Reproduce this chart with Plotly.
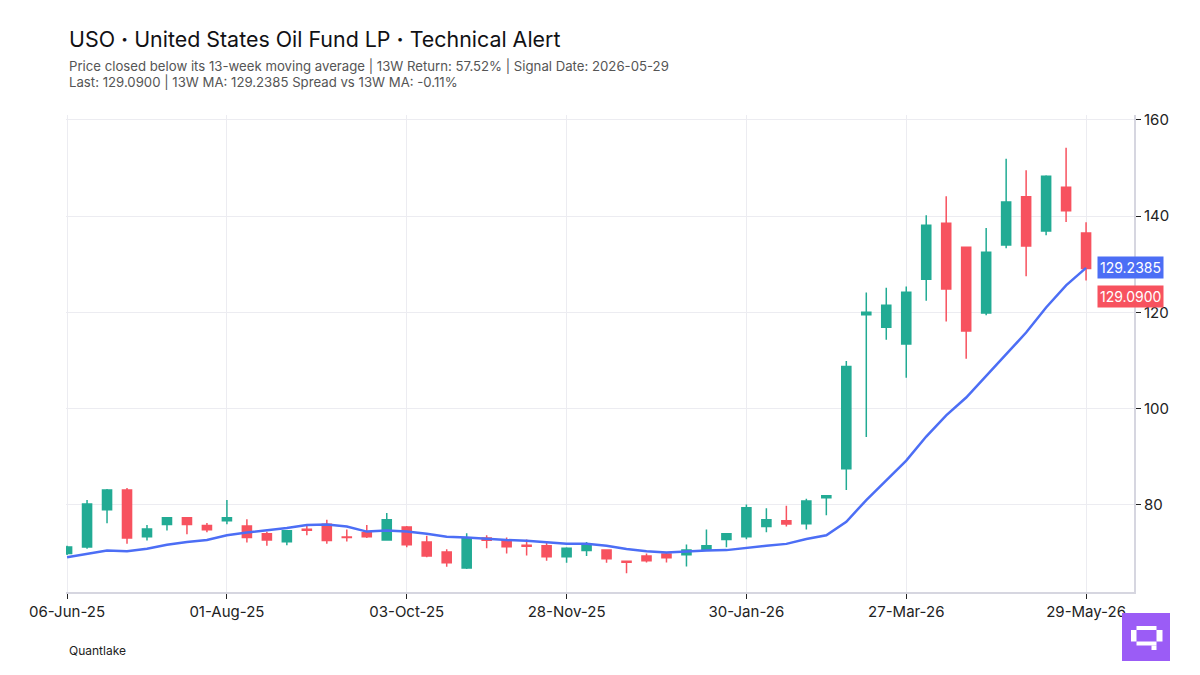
import pandas as pd
import plotly.graph_objects as go

# ---------------- data ----------------
dates = pd.date_range("2025-06-06", periods=52, freq="7D")

opens = [69.9, 71.25, 79.0, 83.1, 73.4, 75.9, 77.3, 75.7, 76.7, 75.6,
         74.0, 72.35, 74.95, 76.0, 73.35, 74.2, 72.7, 75.4, 72.3, 70.2,
         66.9, 73.1, 72.7, 71.6, 71.5, 69.2, 70.5, 70.6, 68.3, 69.4,
         69.8, 69.65, 70.8, 72.8, 73.4, 75.5, 76.7, 76.1, 81.5, 87.5,
         119.5, 116.9, 113.4, 126.9, 138.5, 133.5, 119.85, 134.0, 144.0, 136.9,
         146.0, 136.5]
highs = [71.5, 81.0, 83.3, 83.5, 75.8, 77.5, 77.5, 76.25, 81.0, 77.0,
         74.4, 74.7, 75.9, 76.9, 74.9, 75.8, 78.3, 75.6, 73.6, 70.8,
         74.1, 73.7, 73.2, 72.8, 72.4, 71.2, 72.3, 70.8, 68.4, 69.9,
         70.2, 71.75, 74.9, 74.1, 80.1, 79.3, 79.8, 81.25, 82.0, 109.9,
         124.1, 125.1, 125.35, 140.15, 144.1, 133.6, 137.5, 151.9, 149.5, 148.5,
         154.2, 138.7]
lows = [69.6, 70.9, 76.2, 71.9, 72.6, 74.7, 73.9, 74.3, 76.0, 72.2,
        71.5, 71.6, 73.7, 71.9, 72.4, 73.1, 72.6, 71.2, 69.1, 67.15,
        66.7, 71.0, 69.9, 69.5, 68.4, 68.0, 69.4, 68.0, 65.8, 68.05,
        68.05, 67.2, 70.6, 71.2, 72.85, 74.3, 75.5, 74.9, 77.85, 83.1,
        94.1, 114.3, 106.4, 122.4, 118.1, 110.35, 119.4, 133.3, 127.5, 136.0,
        138.75, 126.6]
closes = [71.25, 80.2, 83.1, 73.1, 75.0, 77.3, 75.9, 74.85, 77.3, 73.2,
          72.7, 74.6, 74.75, 72.6, 73.2, 73.4, 76.9, 71.7, 69.4, 68.0,
          73.0, 72.65, 71.3, 71.4, 69.2, 71.0, 71.5, 68.8, 68.1, 68.4,
          69.0, 70.6, 71.5, 74.0, 79.4, 76.9, 76.05, 80.8, 81.9, 108.75,
          120.0, 121.5, 124.2, 138.1, 124.85, 116.1, 132.5, 142.9, 133.8, 148.3,
          141.1, 129.09]
ma13 = [69.1, 69.8, 70.5, 70.35, 70.9, 71.7, 72.3, 72.7, 73.7, 74.25,
        74.7, 75.2, 75.8, 75.9, 75.5, 74.45, 74.7, 74.45, 74.0, 73.4,
        73.2, 72.9, 72.7, 72.55, 72.15, 71.9, 71.9, 71.5, 70.85, 70.35,
        70.1, 70.35, 70.5, 70.6, 71.1, 71.5, 71.9, 72.9, 73.7, 76.5,
        81.0, 85.1, 89.2, 94.2, 98.6, 102.3, 106.8, 111.5, 115.8, 121.0,
        125.6, 129.2385]

tick_vals = ["2025-06-06", "2025-08-01", "2025-10-03", "2025-11-28",
             "2026-01-30", "2026-03-27", "2026-05-29"]
tick_text = ["06-Jun-25", "01-Aug-25", "03-Oct-25", "28-Nov-25",
             "30-Jan-26", "27-Mar-26", "29-May-26"]
y_ticks = [80, 100, 120, 140, 160]

last_close = 129.09
last_ma = 129.2385

title_text = "USO <b>\u00b7</b> United States Oil Fund LP <b>\u00b7</b> Technical Alert"
sub1 = "Price closed below its 13-week moving average | 13W Return: 57.52% | Signal Date: 2026-05-29"
sub2 = "Last: 129.0900 | 13W MA: 129.2385 Spread vs 13W MA: -0.11%"

# ---------------- style ----------------
GREEN = "#22AB94"
RED = "#F7525F"
BLUE = "#4C6EF5"
FONT = "Inter"

W, H = 1200, 675
L, R, T, B = 66, 66, 115, 83
PW, PH = W - L - R, H - T - B


def px(x):
    return (x - L) / PW


def py(y):
    return (H - B - y) / PH


fig = go.Figure()
fig.add_trace(go.Candlestick(
    x=dates, open=opens, high=highs, low=lows, close=closes,
    increasing=dict(line=dict(color=GREEN, width=1.5), fillcolor=GREEN),
    decreasing=dict(line=dict(color=RED, width=1.5), fillcolor=RED),
    whiskerwidth=0, showlegend=False, name="USO"))
fig.add_trace(go.Scatter(
    x=dates, y=ma13, mode="lines", line=dict(color=BLUE, width=2.5),
    showlegend=False, name="13W MA"))

annotations = [
    dict(text=title_text, x=px(67), y=py(39), xref="paper", yref="paper",
         xanchor="left", yanchor="middle", showarrow=False,
         font=dict(family=FONT, size=21.4, color="#111114")),
    dict(text=sub1, x=px(67), y=py(66), xref="paper", yref="paper",
         xanchor="left", yanchor="middle", showarrow=False,
         font=dict(family=FONT, size=13.2, color="#555555")),
    dict(text=sub2, x=px(67), y=py(82), xref="paper", yref="paper",
         xanchor="left", yanchor="middle", showarrow=False,
         font=dict(family=FONT, size=13.2, color="#555555")),
    dict(text="Quantlake", x=px(67), y=py(650), xref="paper", yref="paper",
         xanchor="left", yanchor="middle", showarrow=False,
         font=dict(family=FONT, size=12, color="#222222")),
    dict(text=f"{last_ma:.4f}", x=px(1097), y=last_ma, xref="paper", yref="y",
         xanchor="left", yanchor="middle", showarrow=False,
         bgcolor=BLUE, borderpad=2,
         font=dict(family=FONT, size=14, color="white")),
    dict(text=f"{last_close:.4f}", x=px(1097), y=last_close, xref="paper", yref="y",
         xanchor="left", yanchor="middle", showarrow=False, yshift=-28,
         bgcolor=RED, borderpad=2,
         font=dict(family=FONT, size=14, color="white")),
]

# logo (purple square with pixel "Q")
LOGO = "#9B5CF6"
shapes = [dict(type="rect", xref="paper", yref="paper",
               x0=px(1122), x1=px(1170), y0=py(613), y1=py(661),
               fillcolor=LOGO, line=dict(width=0), layer="above")]
for (x0, y0, x1, y1) in [(1136.5, 626, 1156.5, 630), (1131, 630, 1136.5, 641.5),
                         (1156.5, 630, 1162.5, 641.5), (1136.5, 641.5, 1156.5, 645.5),
                         (1151.5, 645.5, 1156.5, 650)]:
    shapes.append(dict(type="rect", xref="paper", yref="paper",
                       x0=px(x0), x1=px(x1), y0=py(y0), y1=py(y1),
                       fillcolor="white", line=dict(width=0), layer="above"))

fig.update_layout(
    width=W, height=H,
    margin=dict(l=L, r=R, t=T, b=B),
    paper_bgcolor="white", plot_bgcolor="white",
    font=dict(family=FONT, size=15, color="#222222"),
    annotations=annotations, shapes=shapes,
    boxgap=0.35,
    hovermode=False,
)
fig.update_xaxes(
    type="date", range=["2025-06-05 15:00", "2026-06-14 19:00"],
    tickvals=tick_vals, ticktext=tick_text,
    showgrid=True, gridcolor="#ECECF1", gridwidth=1,
    showline=True, linecolor="#D6D6E0", linewidth=2,
    ticks="outside", ticklen=5, tickcolor="#222222",
    tickfont=dict(family=FONT, size=15, color="#222222"),
    rangeslider=dict(visible=False), zeroline=False,
)
fig.update_yaxes(
    side="right", range=[61.9, 161.0], tickvals=y_ticks,
    showgrid=True, gridcolor="#ECECF1", gridwidth=1,
    showline=True, linecolor="#D6D6E0", linewidth=2,
    ticks="outside", ticklen=5, tickcolor="#222222",
    tickfont=dict(family=FONT, size=15, color="#222222"),
    zeroline=False,
)

fig.write_html("out.html")
